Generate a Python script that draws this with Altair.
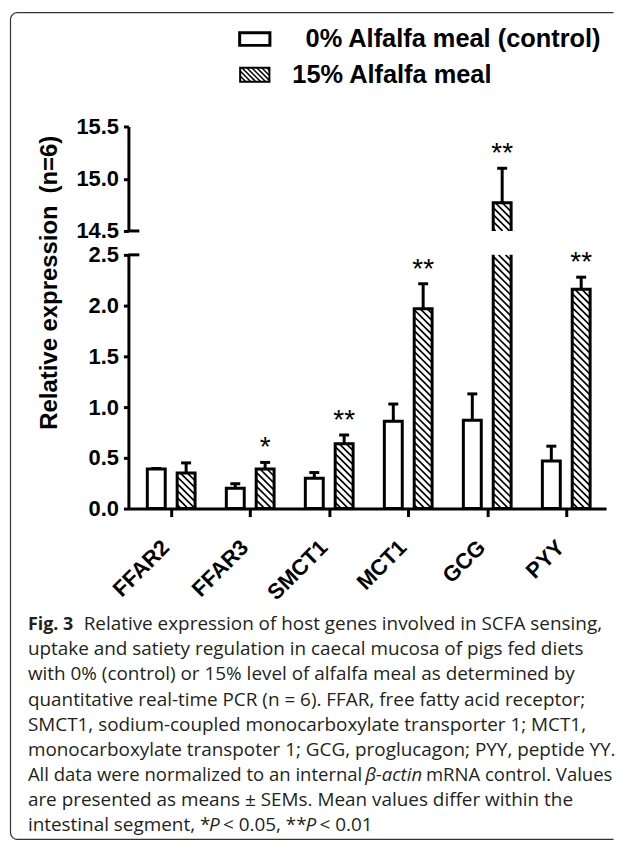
import altair as alt
import pandas as pd
import numpy as np

# ---------------- data ----------------
genes = ["FFAR2", "FFAR3", "SMCT1", "MCT1", "GCG", "PYY"]
control_mean = [0.39, 0.20, 0.30, 0.86, 0.87, 0.47]
control_sem = [0.005, 0.045, 0.055, 0.17, 0.26, 0.145]
alfalfa_mean = [0.35, 0.39, 0.64, 1.97, 14.77, 2.16]
alfalfa_sem = [0.10, 0.065, 0.085, 0.245, 0.33, 0.12]
stars = ["", "*", "**", "**", "**", "**"]
series = ["0% Alfalfa meal (control)", "15% Alfalfa meal"]
y_title = "Relative expression\u2002(n=6)"
lower_ticks = [0.0, 0.5, 1.0, 1.5, 2.0, 2.5]
upper_ticks = [14.5, 15.0, 15.5]

caption_normal = [
    "Relative expression of host genes involved in SCFA sensing,",
    "uptake and satiety regulation in caecal mucosa of pigs fed diets",
    "with 0% (control) or 15% level of alfalfa meal as determined by",
    "quantitative real-time PCR (n = 6). FFAR, free fatty acid receptor;",
    "SMCT1, sodium-coupled monocarboxylate transporter 1; MCT1,",
    "monocarboxylate transpoter 1; GCG, proglucagon; PYY, peptide YY.",
    "All data were normalized to an internal",
    "mRNA control. Values",
    "are presented as means \u00b1 SEMs. Mean values differ within the",
    "intestinal segment, *",
    "< 0.05, **",
    "< 0.01",
]
caption_bold = ["Fig. 3"]
caption_italic = ["\u03b2-actin", "P", "P"]

# ---------------- layout (page pixels) ----------------
LEFT = 127.0
PW = 480
HU, HL = 105, 255
GAP = 24
TOP_U = 125.0
BOT_U = TOP_U + HU
TOP_L = BOT_U + GAP
BOT_L = TOP_L + HL
PXU = 79.4
X0 = -43.0 / PXU
X1 = X0 + PW / PXU
KU = HU / 1.0
KL = HL / 2.5
OFF = 15.0 / PXU
HALF = 9.0 / PXU
CAP = 5.0 / PXU
FONT = "Liberation Sans"
LO_DOM = [0.0, 2.5]
UP_DOM = [14.5, 15.5]


def xpx(px):
    return X0 + (px - LEFT) / PXU


def x_page(x):
    return LEFT + (x - X0) * PXU


def yl(py):
    return (BOT_L - py) / KL


def yl_page(v):
    return BOT_L - v * KL


def yu(py):
    return 14.5 + (BOT_U - py) / KU


def yu_page(v):
    return BOT_U - (v - 14.5) * KU


# ---------------- bar table ----------------
rows = []
for i, g in enumerate(genes):
    for s_idx, (m, e) in enumerate([(control_mean[i], control_sem[i]),
                                    (alfalfa_mean[i], alfalfa_sem[i])]):
        c = i + (-OFF if s_idx == 0 else OFF)
        rows.append(dict(gene=g, series=series[s_idx], xc=c, xl=c - HALF, xr=c + HALF,
                         mean=m, top=m + e, capl=c - CAP, capr=c + CAP, base=0.0,
                         star=stars[i] if s_idx == 1 else ""))
bars = pd.DataFrame(rows)


def hatch_px(xl, xr, yt, yb, s):
    W = xr - xl
    H = yb - yt
    segs = []
    kmin = int(np.floor((xl - H - yt) / s)) - 1
    kmax = int(np.ceil((xl + W - yt) / s)) + 1
    for k in range(kmin, kmax + 1):
        c = k * s - xl + yt
        w1 = max(0.0, -c)
        w2 = min(H, W - c)
        if w2 - w1 > 0.4:
            segs.append((xl + w1 + c, yt + w1, xl + w2 + c, yt + w2))
    return segs


def bar_hatch(lo, hi, to_page, from_page):
    out = []
    for _, r in bars[bars.series == series[1]].iterrows():
        top = min(r["mean"], hi)
        if top <= lo:
            continue
        segs = hatch_px(x_page(r.xl), x_page(r.xr), to_page(top), to_page(lo), 7.0)
        for (a, b, c, d) in segs:
            out.append(dict(x=xpx(a), y=from_page(b), x2=xpx(c), y2=from_page(d)))
    return pd.DataFrame(out)


hatch_lower = bar_hatch(LO_DOM[0], LO_DOM[1], yl_page, yl)
hatch_upper = bar_hatch(UP_DOM[0], UP_DOM[1], yu_page, yu)

# per-panel pieces (bars that run past a panel edge are cut there by clipping)
bars_lower = bars.copy()
bars_lower["ytop"] = bars_lower["mean"].clip(upper=LO_DOM[1] + 0.1)
bars_lower["ybot"] = 0.0
bars_upper = bars[bars["mean"] > UP_DOM[0]].copy()
bars_upper["ytop"] = bars_upper["mean"]
bars_upper["ybot"] = UP_DOM[0] - 0.1
err_lower = bars[bars["top"] <= LO_DOM[1]]
err_upper = bars[bars["mean"] >= UP_DOM[0]]

# ---------------- axes ----------------
y_common = dict(domainWidth=3, domainColor="black", tickWidth=3, tickColor="black",
                tickSize=5, labelFontSize=22, labelFontWeight="bold", labelFont=FONT,
                labelColor="black", labelPadding=5, grid=False, format=".1f")
Y_AX_U = alt.Axis(values=upper_ticks, title=None, **y_common)
Y_AX_L = alt.Axis(values=lower_ticks, title=y_title, titleFontSize=24, titleFont=FONT,
                  titleFontWeight="bold", titleColor="black", titleX=-72, titleY=27.5,
                  titleAngle=270, titleAlign="center", titleBaseline="alphabetic", **y_common)
label_expr = "[" + ",".join("'%s'" % g for g in genes) + "][datum.value]"
X_AX_L = alt.Axis(values=list(range(len(genes))), labelExpr=label_expr, title=None,
                  domainWidth=3, domainColor="black", tickWidth=3, tickColor="black",
                  tickSize=8, labelAngle=315, labelAlign="right", labelBaseline="top",
                  labelPadding=20, labelOffset=-13, labelFontSize=22, labelFontWeight="bold",
                  labelFont=FONT, labelColor="black", grid=False, labelOverlap=False,
                  labelBound=False, labelFlush=False)


def make_panel(lower):
    ydom = LO_DOM if lower else UP_DOM
    xs = alt.Scale(domain=[X0, X1], nice=False, zero=False)
    ys = alt.Scale(domain=ydom, nice=False, zero=False)
    xax = X_AX_L if lower else None
    yax = Y_AX_L if lower else Y_AX_U

    def X(f):
        return alt.X(f"{f}:Q", scale=xs, axis=xax)

    def Y(f):
        return alt.Y(f"{f}:Q", scale=ys, axis=yax)

    hdf = hatch_lower if lower else hatch_upper
    bdf = bars_lower if lower else bars_upper
    edf = err_lower if lower else err_upper
    layers = []
    layers.append(alt.Chart(hdf).mark_rule(color="black", strokeWidth=1.7, clip=True).encode(
        x=X("x"), y=Y("y"), x2=alt.X2("x2"), y2=alt.Y2("y2")))
    layers.append(alt.Chart(bdf).mark_rect(fillOpacity=0, stroke="black", strokeWidth=3,
                                           clip=True).encode(
        x=X("xl"), x2=alt.X2("xr"), y=Y("ytop"), y2=alt.Y2("ybot")))
    e = alt.Chart(edf)
    layers.append(e.mark_rule(color="black", strokeWidth=3).encode(
        x=X("xc"), y=Y("mean"), y2=alt.Y2("top")))
    layers.append(e.mark_rule(color="black", strokeWidth=3).encode(
        x=X("capl"), x2=alt.X2("capr"), y=Y("top")))
    layers.append(e.transform_filter("datum.star != ''").mark_text(
        fontSize=28, font=FONT, color="black", align="center",
        baseline="alphabetic", dy=-6).encode(
        x=X("xc"), y=Y("top"), text="star:N"))
    # axis-break marks
    brk = pd.DataFrame({"v": [LO_DOM[1] if lower else UP_DOM[0]], "a": [X0],
                        "b": [xpx(LEFT + 11)]})
    layers.append(alt.Chart(brk).mark_rule(color="black", strokeWidth=3).encode(
        x=X("a"), x2=alt.X2("b"), y=Y("v")))

    if not lower:
        leg = pd.DataFrame({
            "label": series,
            "tx": [xpx(305), xpx(291.7)],
            "ty": [yu(45), yu(81)],
            "bx": [xpx(238.8), xpx(239.3)],
            "bx2": [xpx(269.2), xpx(268.7)],
            "by": [yu(30.8), yu(66.0)],
            "by2": [yu(43.5), yu(80.0)],
            "sw": [3, 2],
        })
        lh = []
        for (a, bb, c, d) in hatch_px(239.3, 268.7, 66.0, 80.0, 5.0):
            lh.append(dict(x=xpx(a), y=yu(bb), x2=xpx(c), y2=yu(d)))
        lh = pd.DataFrame(lh)
        layers.append(alt.Chart(lh).mark_rule(color="black", strokeWidth=1.5).encode(
            x=X("x"), y=Y("y"), x2=alt.X2("x2"), y2=alt.Y2("y2")))
        layers.append(alt.Chart(leg).mark_rect(fillOpacity=0, stroke="black").encode(
            x=X("bx"), x2=alt.X2("bx2"), y=Y("by"), y2=alt.Y2("by2"),
            strokeWidth=alt.StrokeWidth("sw:Q", scale=None, legend=None)))
        layers.append(alt.Chart(leg).mark_text(fontSize=25.5, fontWeight="bold", font=FONT,
                                               color="black", align="left",
                                               baseline="alphabetic").encode(
            x=X("tx"), y=Y("ty"), text="label:N"))
    else:
        # figure frame (open on the right, rounded on the left)
        r = 7.0
        top, bot, lft, rgt = 10.5, 841.5, 8.5, 614.5
        pts = [(rgt, top)]
        for t in np.linspace(0, np.pi / 2, 7):
            pts.append((lft + r - r * np.sin(t), top + r - r * np.cos(t)))
        for t in np.linspace(0, np.pi / 2, 7):
            pts.append((lft + r - r * np.cos(t), bot - r + r * np.sin(t)))
        pts.append((rgt, bot))
        frame = pd.DataFrame({"x": [xpx(p[0]) for p in pts], "y": [yl(p[1]) for p in pts],
                              "o": list(range(len(pts)))})
        layers.append(alt.Chart(frame).mark_line(color="#333333", strokeWidth=1.2).encode(
            x=X("x"), y=Y("y"), order=alt.Order("o:Q")))
        # caption
        LH = 25.3
        BASE = 631.0
        norm_line = [0, 1, 2, 3, 4, 5, 6, 6, 7, 8, 8, 8]
        norm_x = [82, 26, 26, 26, 26, 26, 26, 426, 26, 26, 222, 319]
        norm_fs = [19, 19, 19, 19, 19, 19, 18.6, 18.6, 19, 19, 19, 19]
        cap_n = pd.DataFrame({"t": caption_normal,
                              "x": [xpx(v) for v in norm_x],
                              "y": [yl(BASE + LH * k) for k in norm_line],
                              "fs": norm_fs})
        cap_b = pd.DataFrame({"t": caption_bold, "x": [xpx(26)], "y": [yl(BASE)], "fs": [18]})
        cap_i = pd.DataFrame({"t": caption_italic,
                              "x": [xpx(365), xpx(208), xpx(305)],
                              "y": [yl(BASE + LH * 6), yl(BASE + LH * 8), yl(BASE + LH * 8)],
                              "fs": [18.6, 19, 19]})
        common = dict(font="Open Sans", color="#231f20", align="left", baseline="alphabetic")
        for df, extra in [(cap_n, {}), (cap_b, {"fontWeight": "bold"}),
                          (cap_i, {"fontStyle": "italic"})]:
            layers.append(alt.Chart(df).mark_text(**common, **extra).encode(
                x=X("x"), y=Y("y"), text="t:N",
                size=alt.Size("fs:Q", scale=None, legend=None)))

    return alt.layer(*layers).properties(width=PW, height=HL if lower else HU)


upper = make_panel(False)
lower = make_panel(True)

chart = alt.vconcat(upper, lower, spacing=GAP, bounds="flush").properties(
    padding={"left": 0, "top": 0, "right": 0, "bottom": 0},
    background="white",
).configure_view(strokeWidth=0)

chart.save("out.html", embed_options={"renderer": "svg", "actions": False})
